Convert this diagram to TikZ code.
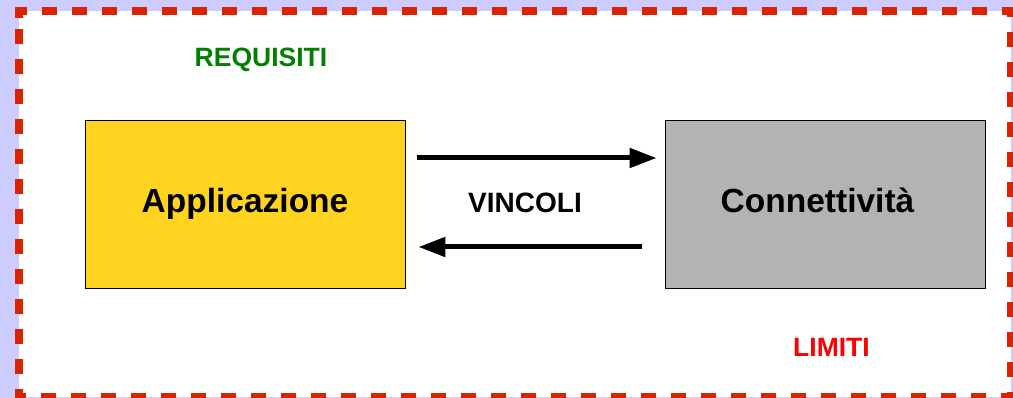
\documentclass[tikz,border=0pt]{standalone}
\usepackage{fontspec}
\setmainfont{Liberation Sans}
\usetikzlibrary{arrows.meta}
\definecolor{lav}{HTML}{CCCCFF}
\definecolor{bred}{HTML}{DD2200}
\definecolor{appyel}{HTML}{FFD320}
\definecolor{congray}{HTML}{B3B3B3}
\definecolor{reqgreen}{HTML}{008000}
\tikzset{
  box/.style={draw=black, line width=0.8pt, minimum width=320pt, minimum height=168pt,
    inner sep=0pt, font=\fontsize{33.5}{40}\selectfont\bfseries, text height=25pt, text depth=8pt},
  lbl/.style={font=\fontsize{26.5}{32}\selectfont\bfseries, anchor=base, inner sep=0pt},
  arr/.style={line width=5pt, -{Triangle[length=27pt,width=19pt]}}
}
\begin{document}
\begin{tikzpicture}[x=1pt,y=-1pt]
\fill[lav] (0,0) rectangle (1013,398);
\useasboundingbox (0,0) rectangle (1013,398);
\fill[white] (19,11) rectangle (1011,397);
\draw[bred, line width=8pt, dash pattern=on 15pt off 15pt, line join=miter]
  (19,18) -- (19,11) -- (1011,11) -- (1011,397) -- (19,397) -- cycle;
\node[box, fill=appyel] (app) at (245,204) {Applicazione};
\node[box, fill=congray] (con) at (825,204) {Connettività\hspace*{15pt}};
\node[lbl, text=reqgreen] (req) at (261,67) {REQUISITI};
\node[lbl, font=\fontsize{28}{34}\selectfont\bfseries] (vin) at (525,213) {VINCOLI};
\node[lbl, text=red] (lim) at (831.5,356) {LIMITI};
\draw[arr] ([xshift=12pt,yshift=46pt]app.east) -- ([xshift=-8pt,yshift=46pt]con.west);
\draw[arr] ([xshift=-23pt,yshift=-43pt]con.west) -- ([xshift=13pt,yshift=-43pt]app.east);
\end{tikzpicture}
\end{document}
